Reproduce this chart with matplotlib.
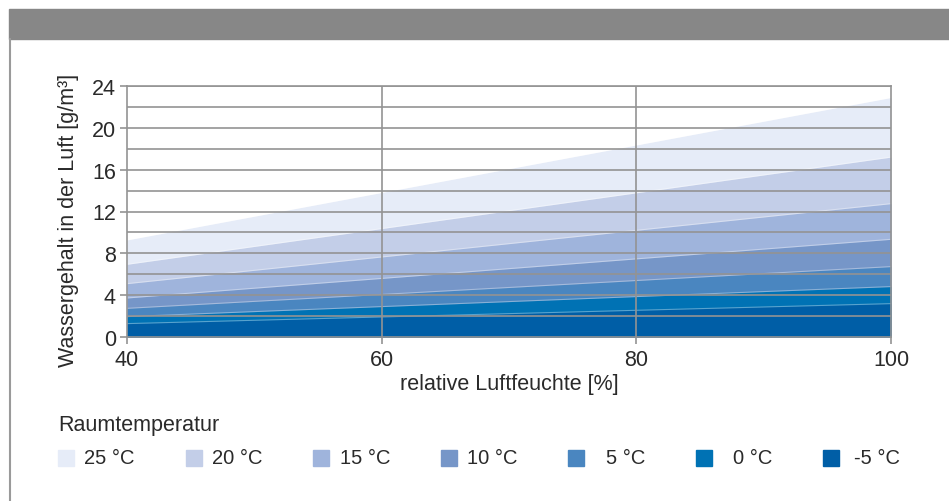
import matplotlib
matplotlib.use('Agg')
import matplotlib.pyplot as plt
from matplotlib.patches import Rectangle
from matplotlib.lines import Line2D

plt.rcParams['font.family'] = ['Liberation Sans', 'DejaVu Sans']

# relative humidity [%] and water content [g/m3] at 40 % and 100 %
humidity = [40, 100]
temps = ['25 °C', '20 °C', '15 °C', '10 °C', '5 °C', '0 °C', '-5 °C']
water = {
    '25 °C': [9.28, 22.9],
    '20 °C': [6.95, 17.2],
    '15 °C': [5.1, 12.75],
    '10 °C': [3.73, 9.34],
    '5 °C': [2.74, 6.73],
    '0 °C': [1.95, 4.82],
    '-5 °C': [1.28, 3.19],
}
colors = ['#e6ecf8', '#c3cee8', '#9fb4dc', '#7696c8', '#4a86c0', '#0072b4', '#005ea6']
yticks = [0, 4, 8, 12, 16, 20, 24]
xticks = [40, 60, 80, 100]

W, H = 949, 502
fig = plt.figure(figsize=(W / 100, H / 100), dpi=100)

# grey header bar and left border
fig.patches.append(Rectangle((9 / W, 1 - 40 / H), 1 - 9 / W, 30 / H,
                             transform=fig.transFigure, color='#878787', zorder=0))
fig.lines.append(Line2D([9.5 / W, 9.5 / W], [0, 1 - 40 / H], transform=fig.transFigure,
                        color='#9a9a9a', lw=1.5))

ax = fig.add_axes([127 / W, 1 - 338 / H, 764 / W, 251 / H])
grid_c = '#939393'
text_c = '#2a2a2a'

# largest area first so smaller ones sit on top
for name, c in zip(temps, colors):
    ax.fill_between(humidity, 0, water[name], color=c, lw=0, zorder=1)
    ax.plot(humidity, water[name], color='white', alpha=0.35, lw=0.8, zorder=1.5)

for y in range(2, 25, 2):
    ax.axhline(y, color=grid_c, lw=1.2, zorder=3)
for x in [60, 80]:
    ax.axvline(x, color=grid_c, lw=1.2, zorder=3)

ax.set_xlim(40, 100)
ax.set_ylim(0, 24)
ax.set_xticks(xticks)
ax.set_yticks(yticks)
for s in ax.spines.values():
    s.set_color(grid_c)
    s.set_linewidth(1.2)
    s.set_zorder(4)
ax.tick_params(axis='both', colors=grid_c, length=5, width=1.2, labelsize=15.5,
               labelcolor=text_c)
ax.tick_params(axis='y', pad=3)
ax.tick_params(axis='x', pad=4)

ax.set_ylabel('Wassergehalt in der Luft [g/m³]', fontsize=15.5, color=text_c)
ax.yaxis.set_label_coords(-0.063, 0.47)
ax.set_xlabel('relative Luftfeuchte [%]', fontsize=15.5, color=text_c, labelpad=2)

# legend
fig.text(58 / W, 1 - 426 / H, 'Raumtemperatur', fontsize=15.5, color=text_c, va='center')
for i, (name, c) in enumerate(zip(temps, colors)):
    x0 = 58 + i * 127.5
    fig.patches.append(Rectangle((x0 / W, 1 - 467 / H), 16 / W, 16 / H,
                                 transform=fig.transFigure, color=c))
    fig.text((x0 + 77) / W, 1 - 459 / H, name, fontsize=14.5, color=text_c,
             ha='right', va='center')

fig.savefig('out.png', dpi=100)
